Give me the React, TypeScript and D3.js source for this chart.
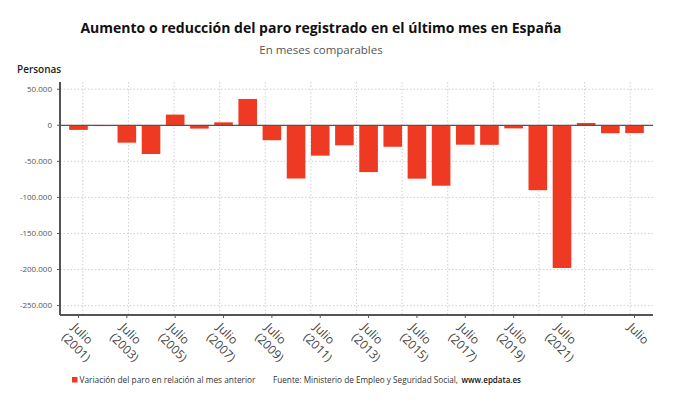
import React from "react";
import * as d3 from "d3";

const years = [2001, 2002, 2003, 2004, 2005, 2006, 2007, 2008, 2009, 2010, 2011, 2012, 2013, 2014, 2015, 2016, 2017, 2018, 2019, 2020, 2021, 2022, 2023, 2024];
const values = [-6400, -1000, -24100, -39800, 14800, -4600, 4100, 36500, -20700, -73800, -42100, -27800, -64900, -29800, -74000, -83800, -26900, -27100, -4300, -90000, -197800, 3200, -11000, -10800];
const tickYears = [2001, 2003, 2005, 2007, 2009, 2011, 2013, 2015, 2017, 2019, 2021, 2024];
const tickLabels = [["Julio", "(2001)"], ["Julio", "(2003)"], ["Julio", "(2005)"], ["Julio", "(2007)"], ["Julio", "(2009)"], ["Julio", "(2011)"], ["Julio", "(2013)"], ["Julio", "(2015)"], ["Julio", "(2017)"], ["Julio", "(2019)"], ["Julio", "(2021)"], ["Julio"]];
const yTicks = [50000, 0, -50000, -100000, -150000, -200000, -250000];
const yDomain = [-263000, 60000];
const gridCount = 13;

const W = 690, H = 405;
const left = 60, right = 653, top = 82, bottom = 315;
const FONT = "'Open Sans', sans-serif";
const RED = "#ef3a23";

const loc = d3.formatLocale({ decimal: ",", thousands: ".", grouping: [3], currency: ["", "€"], minus: "-" });
const fmt = loc.format(",d");

export default function App() {
  const x = d3.scaleBand<number>().domain(years).range([left, right]).paddingInner(0.23).paddingOuter(0.38);
  const y = d3.scaleLinear().domain(yDomain).range([bottom, top]);
  const grid = d3.range(gridCount).map((k) => left + ((k + 0.5) * (right - left)) / gridCount);

  return (
    <svg width={W} height={H} style={{ display: "block", position: "absolute", left: 0, top: 0 }} fontFamily={FONT}>
      <rect width={W} height={H} fill="#fff" />
      <text x={321} y={33} textAnchor="middle" fontSize={14} fontWeight={700} fill="#111">
        Aumento o reducción del paro registrado en el último mes en España
      </text>
      <text x={321} y={54} textAnchor="middle" fontSize={11.5} fill="#555">
        En meses comparables
      </text>
      <text x={17} y={73} fontSize={10} fontWeight={600} fill="#222">Personas</text>

      {/* grid */}
      {grid.map((gx, i) => (
        <line key={"vg" + i} x1={gx} x2={gx} y1={top} y2={bottom} stroke="#cfcfd6" strokeDasharray="1.5,2" strokeWidth={1} />
      ))}
      {yTicks.map((t) => (
        <line key={"hg" + t} x1={left} x2={right} y1={y(t)} y2={y(t)} stroke="#cfcfd6" strokeDasharray="1.5,2" strokeWidth={1} />
      ))}

      {/* bars */}
      {years.map((yr, i) => {
        const v = values[i];
        const y0 = y(Math.max(0, v));
        const y1 = y(Math.min(0, v));
        return <rect key={yr} x={x(yr)} y={y0} width={x.bandwidth()} height={Math.max(0.8, y1 - y0)} fill={RED} />;
      })}

      {/* zero line */}
      <line x1={left} x2={right} y1={y(0)} y2={y(0)} stroke="#555" strokeWidth={1.2} />

      {/* y axis */}
      <line x1={left} x2={left} y1={top} y2={bottom} stroke="#555" strokeWidth={2} />
      {yTicks.map((t) => (
        <g key={"yt" + t}>
          <line x1={left - 3} x2={left} y1={y(t)} y2={y(t)} stroke="#555" />
          <text x={52} y={y(t)} dy="0.35em" textAnchor="end" fontSize={8} fill="#555">{fmt(t)}</text>
        </g>
      ))}

      {/* x axis */}
      <line x1={left} x2={right} y1={bottom} y2={bottom} stroke="#555" strokeWidth={2} />
      {tickYears.map((yr, i) => {
        const cx = (x(yr) as number) + x.bandwidth() / 2;
        return (
          <g key={"xt" + yr}>
            <line x1={cx} x2={cx} y1={bottom} y2={bottom + 3} stroke="#555" />
            <g transform={`translate(${cx - 1.5},${bottom + 7}) rotate(45)`}>
              <text fontSize={12} fill="#444">
                {tickLabels[i].map((s, j) => (
                  <tspan key={j} x={0} dy={j === 0 ? "0.72em" : 14}>{s}</tspan>
                ))}
              </text>
            </g>
          </g>
        );
      })}

      {/* legend */}
      <rect x={72} y={377} width={5.5} height={5.5} fill={RED} />
      <text x={79.5} y={383} fontSize={9.3} fill="#333" textLength={176} lengthAdjust="spacingAndGlyphs">Variación del paro en relación al mes anterior</text>
      <text x={273} y={383} fontSize={8.2} fill="#333" textLength={185} lengthAdjust="spacingAndGlyphs">
        Fuente: Ministerio de Empleo y Seguridad Social,
      </text>
      <text x={461.5} y={383} fontSize={8.6} fontWeight={600} fill="#111" textLength={59.5} lengthAdjust="spacingAndGlyphs">
        www.epdata.es
      </text>
    </svg>
  );
}
